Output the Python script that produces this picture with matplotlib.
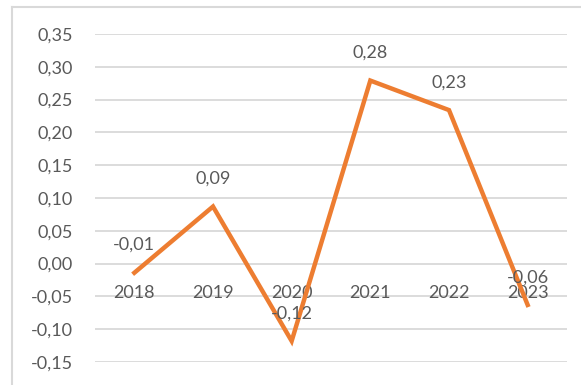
import matplotlib
matplotlib.use("Agg")
import matplotlib.pyplot as plt
from matplotlib.lines import Line2D

years = ["2018", "2019", "2020", "2021", "2022", "2023"]
values = [-0.014, 0.087, -0.118, 0.279, 0.234, -0.063]
yticks = [-0.15, -0.10, -0.05, 0.00, 0.05, 0.10, 0.15, 0.20, 0.25, 0.30, 0.35]

orange = "#ED7D31"
grey_text = "#595959"
grid_col = "#D9D9D9"

plt.rcParams['font.family'] = ['Lato', 'DejaVu Sans']

fig = plt.figure(figsize=(5.81, 3.85), dpi=100)
ax = fig.add_axes([0.1635, 0.0597, 0.8124, 0.852])

x = list(range(len(years)))
ax.plot(x, values, color=orange, linewidth=3.2, solid_joinstyle='miter', zorder=3)

# data labels above each point
for xi, v in zip(x, values):
    ax.annotate("{:.2f}".format(v).replace(".", ","), (xi, v), xytext=(0, 20),
                textcoords='offset points', ha='center', va='center',
                fontsize=13, color=grey_text, zorder=4)

# category labels sit just under the zero line
for xi, lab in zip(x, years):
    ax.annotate(lab, (xi, 0), xytext=(0, -21), textcoords='offset points',
                ha='center', va='center', fontsize=13, color=grey_text, zorder=2)

ax.set_xlim(-0.5, len(years) - 0.5)
ax.set_ylim(-0.15, 0.35)
ax.set_yticks(yticks)
ax.set_yticklabels(["{:.2f}".format(t).replace(".", ",") for t in yticks])
ax.set_xticks([])
ax.tick_params(axis='y', length=0, pad=16, labelsize=13, labelcolor=grey_text)
ax.yaxis.grid(True, color=grid_col, linewidth=1.3)
ax.set_axisbelow(True)
for s in ax.spines.values():
    s.set_visible(False)

# chart frame (only left and top edges are inside the picture)
fig.add_artist(Line2D([12 / 581, 12 / 581], [0, 1 - 7 / 385], color=grid_col, linewidth=1.5))
fig.add_artist(Line2D([12 / 581, 1], [1 - 7 / 385, 1 - 7 / 385], color=grid_col, linewidth=1.5))

fig.savefig("out.png", dpi=100)
